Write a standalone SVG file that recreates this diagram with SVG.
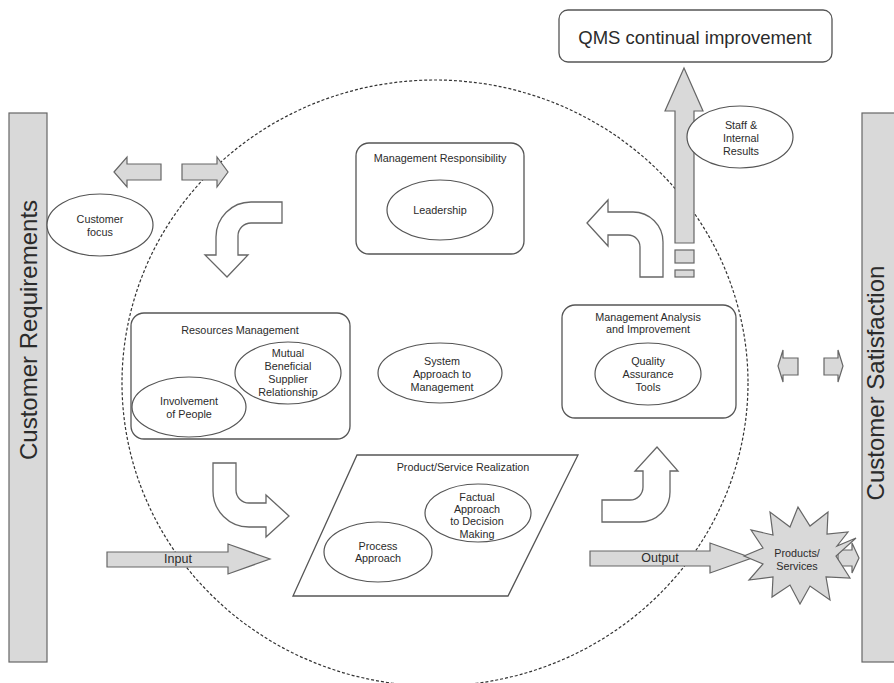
<svg xmlns="http://www.w3.org/2000/svg" width="894" height="683" viewBox="0 0 894 683">
<style>
text{font-family:"Liberation Sans",Arial,sans-serif;fill:#2b2b2b;text-anchor:middle;dominant-baseline:central}
.s{font-size:10.8px}
.io{font-size:12.5px}
.big{font-size:24px}
.box{fill:#fff;stroke:#555;stroke-width:1.3}
.ell{fill:#fff;stroke:#555;stroke-width:1.2}
.g{fill:#d9d9d9;stroke:#666;stroke-width:1.2}
.w{fill:#fff;stroke:#666;stroke-width:1.3}
</style>
<rect width="894" height="683" fill="#fff"/>
<g id="cycle">
<ellipse cx="435" cy="383" rx="313" ry="303" fill="none" stroke="#333" stroke-width="1.2" stroke-dasharray="3 2"/>
</g>
<g id="customer-requirements">
<rect x="9" y="113" width="38" height="549" class="g"/>
<text class="big" transform="translate(28,330) rotate(-90)">Customer Requirements</text>
</g>
<g id="customer-satisfaction">
<rect x="862" y="113" width="40" height="549" class="g"/>
<text class="big" transform="translate(875,383) rotate(-90)">Customer Satisfaction</text>
</g>
<g id="connectors">
<path class="g" d="M114,172 L127,157 V164 H161 V180 H127 V187 Z"/>
<path class="g" d="M182,164 H217 V157 L228,172 L217,187 V180 H182 Z"/>
<path class="g" d="M778,366 L783,350 V358 H798 V375 H783 V382 Z"/>
<path class="g" d="M824,358 H838 V350 L843,366 L838,382 V375 H824 Z"/>
<path class="g" d="M107,552 H228 V544 L270,559 L228,574 V567 H107 Z"/>
<text class="io" x="178" y="559">Input</text>
<path class="g" d="M590,551 H710 V543 L752,558 L710,573 V566 H590 Z"/>
<text class="io" x="660" y="558">Output</text>
<path class="g" d="M838,550 H852 V543 L859,558 L852,573 V566 H838 Z"/>
<path class="g" d="M684,68 L703,111 H694 V243 H675 V111 H665 Z"/>
<rect class="g" x="675" y="250" width="19" height="13"/>
<rect class="g" x="675" y="270" width="19" height="7"/>
<path class="w" d="M282,202 H251 A35,35 0 0 0 216,237 V255 H205 L227,277 L248,255 H238 V236 A13,13 0 0 1 251,223 H282 Z"/>
<path class="w" d="M587,223 L608,200 V212 H633 A30,30 0 0 1 663,242 V277 H640 V247 A12,12 0 0 0 628,235 H608 V246 Z"/>
<path class="w" d="M213,463 H236 V490 A13,13 0 0 0 249,503 H266 V495 L289,516 L266,537 V527 H249 A36,36 0 0 1 213,491 Z"/>
<path class="w" d="M602,500 H630 A13,13 0 0 0 643,487 V471 H635 L657,447 L678,471 H670 V492 A30,30 0 0 1 640,522 H602 Z"/>
</g>
<g id="qms">
<rect x="559" y="10" width="273" height="52" rx="9" class="box"/>
<text x="695" y="37" style="font-size:18.5px">QMS continual improvement</text>
</g>
<g id="staff">
<ellipse cx="740" cy="137" rx="53" ry="31" class="ell"/>
<text class="s" x="741" y="125">Staff &amp;</text>
<text class="s" x="741" y="138">Internal</text>
<text class="s" x="741" y="151">Results</text>
</g>
<g id="customer-focus">
<ellipse cx="100" cy="225" rx="53" ry="31" class="ell"/>
<text class="s" x="100" y="219">Customer</text>
<text class="s" x="100" y="232">focus</text>
</g>
<g id="management-responsibility">
<rect x="356" y="143" width="168" height="111" rx="13" class="box"/>
<text class="s" x="440" y="158">Management Responsibility</text>
<ellipse cx="440" cy="210" rx="53" ry="30" class="ell"/>
<text class="s" x="440" y="210">Leadership</text>
</g>
<g id="resources-management">
<rect x="131" y="313" width="219" height="126" rx="13" class="box"/>
<text class="s" x="240" y="330">Resources Management</text>
<ellipse cx="288" cy="373" rx="53" ry="31" class="ell"/>
<text class="s" x="288" y="353">Mutual</text>
<text class="s" x="288" y="366">Beneficial</text>
<text class="s" x="288" y="379">Supplier</text>
<text class="s" x="288" y="392">Relationship</text>
<ellipse cx="189" cy="407" rx="57" ry="30" class="ell"/>
<text class="s" x="189" y="401">Involvement</text>
<text class="s" x="189" y="414">of People</text>
</g>
<g id="system-approach">
<ellipse cx="440" cy="373" rx="62" ry="30" class="ell"/>
<text class="s" x="442" y="361">System</text>
<text class="s" x="442" y="374">Approach to</text>
<text class="s" x="442" y="387">Management</text>
</g>
<g id="management-analysis">
<rect x="562" y="305" width="174" height="113" rx="13" class="box"/>
<text class="s" x="648" y="317">Management Analysis</text>
<text class="s" x="648" y="329">and Improvement</text>
<ellipse cx="648" cy="374" rx="53" ry="31" class="ell"/>
<text class="s" x="648" y="361">Quality</text>
<text class="s" x="648" y="374">Assurance</text>
<text class="s" x="648" y="387">Tools</text>
</g>
<g id="product-realization">
<polygon points="357,455 578,455 508,596 293,596" class="box"/>
<text class="s" x="463" y="467">Product/Service Realization</text>
<ellipse cx="478" cy="513" rx="53" ry="29" class="ell"/>
<text class="s" x="477" y="497">Factual</text>
<text class="s" x="477" y="509">Approach</text>
<text class="s" x="477" y="521">to Decision</text>
<text class="s" x="477" y="534">Making</text>
<ellipse cx="378" cy="552" rx="54" ry="30" class="ell"/>
<text class="s" x="378" y="546">Process</text>
<text class="s" x="378" y="558">Approach</text>
</g>
<g id="products-services">
<polygon class="g" points="856,538 836,556 850,578 826,577 830,600 810,586 800,604 790,585 772,597 773,577 749,580 763,564 744,556 763,548 751,530 773,535 770,512 790,527 798,507 810,526 828,512 827,534 848,532 837,546"/>
<text class="s" x="797" y="553">Products/</text>
<text class="s" x="797" y="566">Services</text>
</g>
</svg>
